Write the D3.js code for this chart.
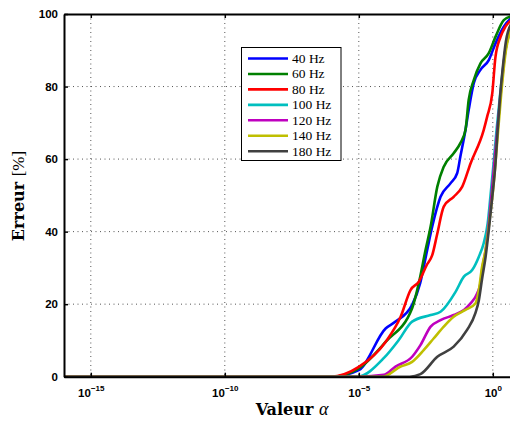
<!DOCTYPE html>
<html><head><meta charset="utf-8">
<script src="https://cdn.jsdelivr.net/npm/d3@7"></script>
<style>body{margin:0;background:#fff}svg{display:block}</style>
</head><body>
<svg id="c" width="510" height="422"></svg>
<script>
// log10(alpha) positions and error (%) for each series
const seriesNames = ["40 Hz","60 Hz","80 Hz","100 Hz","120 Hz","140 Hz","180 Hz"];
const colors = ["#0000ff","#008000","#ff0000","#00bfbf","#bf00bf","#bfbf00","#404040"];
const s40 = [[-16,0],[-6,0],[-5,1.8],[-4,13.3],[-3.63,15.2],[-3.01,19.8],[-2.71,25.8],[-2.45,34.9],[-2.26,41.4],[-1.95,49.6],[-1.58,53.3],[-1.33,56.1],[-1.21,60.7],[-1.02,68.0],[-0.9,73.5],[-0.71,80.9],[-0.46,84.6],[-0.15,87.3],[0.1,91.9],[0.41,96.5],[0.7,99]];
const s60 = [[-16,0],[-6,0],[-5,2.3],[-4,9.6],[-3.01,18.9],[-2.76,25.8],[-2.51,34.9],[-2.32,41.4],[-2.07,52.4],[-1.83,57.9],[-1.46,61.6],[-1.21,64.4],[-1.02,68.0],[-0.9,76.3],[-0.71,81.8],[-0.46,86.4],[-0.15,89.2],[0.1,93.7],[0.41,98.3],[0.7,99.4]];
const s80 = [[-16,0],[-6.05,0],[-5,2.7],[-4,9.6],[-3.44,16.5],[-3.07,23.9],[-2.76,26.2],[-2.45,31.0],[-2.26,33.5],[-2.07,39.5],[-1.83,46.9],[-1.46,49.6],[-1.14,52.4],[-0.83,58.8],[-0.34,68.0],[-0.21,71.7],[-0.02,78.1],[0.1,88.2],[0.29,93.7],[0.47,96.5],[0.7,98.4]];
const s100 = [[-16,0],[-5.05,0],[-4.07,5.1],[-3.51,10.1],[-3.01,15.2],[-2.32,17.0],[-1.95,17.9],[-1.39,23.4],[-1.08,27.6],[-0.77,29.4],[-0.52,33.1],[-0.34,36.8],[-0.19,42.3],[-0.09,49.6],[0.03,58.9],[0.14,68.0],[0.29,79],[0.47,90],[0.7,96.5]];
const s120 = [[-16,0],[-5,0],[-4.07,0.5],[-3.63,2.8],[-3.01,5.5],[-2.7,8.7],[-2.32,13.8],[-1.95,15.6],[-1.46,17.0],[-1.08,18.4],[-0.83,20.2],[-0.58,23.0],[-0.46,25.8],[-0.4,29.4],[-0.27,34.9],[-0.14,43.2],[-0.03,51.5],[0.1,62.5],[0.29,77.7],[0.47,90],[0.7,96.5]];
const s140 = [[-16,0],[-4.1,0],[-3.44,2.8],[-3.01,4.1],[-2.57,7.4],[-2.2,10.6],[-1.83,13.8],[-1.46,16.5],[-1.02,18.4],[-0.65,20.2],[-0.52,23.9],[-0.4,30.3],[-0.27,34.9],[-0.12,43.2],[0.01,51.5],[0.14,62.5],[0.31,77.7],[0.49,90],[0.7,96.2]];
const s180 = [[-16,0],[-3.1,0],[-2.7,0.7],[-2.07,5.5],[-1.46,8.3],[-0.96,12.9],[-0.65,17.5],[-0.52,21.1],[-0.4,27],[-0.27,33],[-0.15,40.4],[-0.02,49.6],[0.1,58.8],[0.18,68.0],[0.27,77],[0.37,85],[0.49,92.5],[0.7,97.5]];
const allSeries = [s40,s60,s80,s100,s120,s140,s180];
const xTicks = [-15,-10,-5,0];
const yTicks = [0,20,40,60,80,100];

const svg = d3.select("#c");
const L = 64, T = 14, B = 376.7;
const x = d3.scaleLinear().domain([-16,1]).range([L, L + 17*26.8]);
const y = d3.scaleLinear().domain([0,100]).range([B, T]);

// grid
const grid = svg.append("g").attr("stroke","#555").attr("stroke-width",1).attr("stroke-dasharray","1,3.5");
xTicks.forEach(t => grid.append("line").attr("x1",x(t)).attr("x2",x(t)).attr("y1",T).attr("y2",B));
yTicks.filter(t=>t>0&&t<100).forEach(t => grid.append("line").attr("x1",L).attr("x2",520).attr("y1",y(t)).attr("y2",y(t)));

// lines
const line = d3.line().x(d=>x(d[0])).y(d=>y(d[1])).curve(d3.curveMonotoneX);
allSeries.forEach((s,i)=>{
  svg.append("path").datum(s).attr("d",line).attr("fill","none")
    .attr("stroke",colors[i]).attr("stroke-width",2.6).attr("stroke-linejoin","round");
});

// axes
const fontTick = "'Liberation Sans', Arial, sans-serif";
const ax = svg.append("g").attr("transform",`translate(0,${B})`)
  .call(d3.axisBottom(x).tickValues(xTicks).tickSizeInner(-4).tickSizeOuter(0).tickFormat(""));
const axTop = svg.append("g").attr("transform",`translate(0,${T})`)
  .call(d3.axisTop(x).tickValues(xTicks).tickSizeInner(-4).tickSizeOuter(0).tickFormat(""));
const ay = svg.append("g").attr("transform",`translate(${L},0)`)
  .call(d3.axisLeft(y).tickValues(yTicks).tickSizeInner(-4).tickSizeOuter(0).tickPadding(6));
[ax,axTop,ay].forEach(g=>{
  g.select(".domain").attr("stroke","#000").attr("stroke-width",2);
  g.selectAll(".tick line").attr("stroke","#000").attr("stroke-width",1.5);
});
ay.selectAll(".tick text").attr("font-family",fontTick).attr("font-weight","bold").attr("font-size",11.5).attr("fill","#000");
// x tick labels with superscripts
ax.selectAll(".tick").each(function(d){
  const t = d3.select(this).append("text").attr("fill","#000").attr("font-family",fontTick)
    .attr("font-weight","bold").attr("font-size",11.5).attr("y",20).attr("text-anchor","middle");
  t.append("tspan").text("10");
  t.append("tspan").attr("dy",-6).attr("font-size",8).text(d===0?"0":"\u2212"+Math.abs(d));
});

// axis labels
const serif = "'DejaVu Serif','Liberation Serif',serif";
const xl = svg.append("text").attr("x",292).attr("y",415).attr("text-anchor","middle")
  .attr("font-family",serif).attr("font-size",16).attr("font-weight","bold").attr("fill","#000");
xl.append("tspan").text("Valeur ");
xl.append("tspan").attr("font-style","italic").attr("font-weight","normal").attr("font-family","'Liberation Serif',serif").attr("font-size",18).text("α");
const yl = svg.append("text").attr("transform","translate(24,196) rotate(-90)").attr("text-anchor","middle")
  .attr("font-family",serif).attr("font-size",16).attr("fill","#000");
yl.append("tspan").attr("font-weight","bold").text("Erreur ");
yl.append("tspan").attr("font-family","'Liberation Serif',serif").attr("font-size",17).text("[%]");

// legend
const lg = svg.append("g");
lg.append("rect").attr("x",241.5).attr("y",47.5).attr("width",99.5).attr("height",113).attr("fill","#fff").attr("stroke","#000").attr("stroke-width",1);
seriesNames.forEach((n,i)=>{
  const yy = 58.5 + i*15.45;
  lg.append("line").attr("x1",248).attr("x2",288).attr("y1",yy).attr("y2",yy).attr("stroke",colors[i]).attr("stroke-width",2.6);
  lg.append("text").attr("x",292).attr("y",yy+4.5).attr("font-family","'Liberation Serif',serif").attr("font-size",13.5).attr("fill","#000").text(n);
});
</script>
</body></html>
